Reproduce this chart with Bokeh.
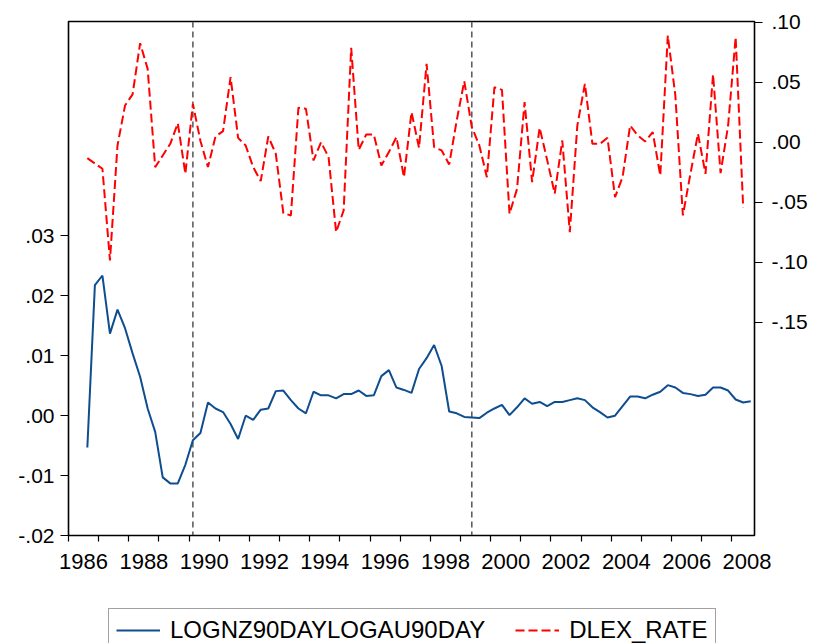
from bokeh.plotting import figure
from bokeh.layouts import column
from bokeh.models import (Range1d, LinearAxis, FixedTicker, CustomJSTickFormatter,
                          Legend, LegendItem, Span, ColumnDataSource)
from bokeh.embed import file_html
from bokeh.resources import INLINE

# ---------------- data ----------------
start_year = 1986
start_quarter = 3  # 1986Q3

lognz90daylogau90day = [
    -0.0053, 0.0218, 0.0234, 0.0137, 0.0177, 0.0146, 0.0104, 0.0065, 0.0012, -0.0027,
    -0.0103, -0.0113, -0.0113, -0.0082, -0.0041, -0.0029, 0.0022, 0.0012, 0.0006, -0.0014,
    -0.0039, 0.0000, -0.0007, 0.0010, 0.0012, 0.0041, 0.0042, 0.0026, 0.0012, 0.0004,
    0.0040, 0.0034, 0.0034, 0.0029, 0.0036, 0.0036, 0.0042, 0.0033, 0.0034, 0.0066,
    0.0076, 0.0047, 0.0043, 0.0038, 0.0078, 0.0096, 0.0118, 0.0083, 0.0007, 0.0004,
    -0.0002, -0.0003, -0.0004, 0.0005, 0.0012, 0.0018, 0.0001, 0.0014, 0.0029, 0.0020,
    0.0023, 0.0016, 0.0023, 0.0023, 0.0026, 0.0029, 0.0026, 0.0014, 0.0006, -0.0003,
    0.0000, 0.0016, 0.0032, 0.0032, 0.0029, 0.0035, 0.0040, 0.0051, 0.0047, 0.0038,
    0.0036, 0.0033, 0.0035, 0.0047, 0.0047, 0.0042, 0.0027, 0.0022, 0.0024,
]

dlex_rate = [
    -0.0133, -0.0178, -0.0222, -0.0986, -0.0028, 0.0306, 0.0398, 0.0825, 0.0611, -0.0208,
    -0.0111, -0.0014, 0.0158, -0.0264, 0.0319, 0.0010, -0.0208, 0.0047, 0.0092, 0.0542,
    0.0036, -0.0028, -0.0208, -0.0325, 0.0047, -0.0097, -0.0592, -0.0611, 0.0286, 0.0278,
    -0.0153, 0.0000, -0.0125, -0.0750, -0.0569, 0.0786, -0.0064, 0.0064, 0.0064, -0.0194,
    -0.0083, 0.0042, -0.0292, 0.0250, -0.0047, 0.0653, -0.0042, -0.0069, -0.0186, 0.0181,
    0.0508, 0.0125, -0.0028, -0.0292, 0.0458, 0.0436, -0.0597, -0.0390, 0.0333, -0.0333,
    0.0120, -0.0150, -0.0430, 0.0014, -0.0750, 0.0139, 0.0486, -0.0014, -0.0014, 0.0036,
    -0.0458, -0.0292, 0.0139, 0.0056, 0.0006, 0.0083, -0.0278, 0.0889, 0.0389, -0.0611,
    -0.0264, 0.0070, -0.0264, 0.0564, -0.0258, 0.0139, 0.0875, -0.0547,
]

series_names = ["LOGNZ90DAYLOGAU90DAY", "DLEX_RATE"]
break_dates = [(1990, 1), (1999, 2)]  # vertical dashed lines (year, quarter)

year_ticks = list(range(1986, 2009))
year_labels = list(range(1986, 2009, 2))
left_ticks = [-0.02, -0.01, 0.00, 0.01, 0.02, 0.03]
right_ticks = [-0.15, -0.10, -0.05, 0.00, 0.05, 0.10]
left_range = (-0.02, 0.0658)
right_range = (-0.328, 0.1006)
x_range = (1986, 2008.75)

BLUE = "#0E4D8F"
RED = "#FF0000"
RED_DASH = "9 4"
FONT = "Liberation Sans"


def qpos(year, q):
    return year + (q - 1) / 4 + 0.125


def series_x(n):
    out = []
    for i in range(n):
        k = start_quarter - 1 + i
        out.append(qpos(start_year + k // 4, k % 4 + 1))
    return out


src_a = ColumnDataSource(dict(x=series_x(len(lognz90daylogau90day)), y=lognz90daylogau90day))
src_b = ColumnDataSource(dict(x=series_x(len(dlex_rate)), y=dlex_rate))

# ---------------- main chart ----------------
p = figure(width=810, height=596, output_backend="svg", toolbar_location=None,
           x_range=Range1d(*x_range), y_range=Range1d(*left_range),
           min_border_left=68, min_border_right=56, min_border_top=21, min_border_bottom=61,
           background_fill_color="white", border_fill_color="white")
p.extra_y_ranges = {"right": Range1d(*right_range)}

p.xgrid.grid_line_color = None
p.ygrid.grid_line_color = None
p.outline_line_color = "black"
p.outline_line_width = 1.6
p.outline_line_alpha = 1.0

for d in break_dates:
    p.add_layout(Span(location=qpos(*d), dimension="height", line_color="#555555",
                      line_dash="6 4", line_width=1.5, level="underlay"))

p.line("x", "y", source=src_a, line_color=BLUE, line_width=2)
p.line("x", "y", source=src_b, line_color=RED, line_width=2,
       line_dash=RED_DASH, y_range_name="right")

fmt = CustomJSTickFormatter(code="return tick.toFixed(2).replace('0.', '.');")

# x axis
xa = p.xaxis[0]
xa.ticker = FixedTicker(ticks=[y + 0.5 for y in year_labels], minor_ticks=year_ticks)
xa.formatter = CustomJSTickFormatter(code="return String(Math.floor(tick));")
xa.major_tick_out = 0
xa.major_tick_in = 0
xa.minor_tick_out = 6
xa.minor_tick_in = 0
xa.minor_tick_line_color = "black"
xa.minor_tick_line_width = 1.2
xa.major_label_standoff = 12
xa.major_label_text_font = FONT
xa.major_label_text_font_size = "22px"
xa.major_label_text_color = "black"
xa.axis_line_color = "black"

# left axis
ya = p.yaxis[0]
ya.ticker = FixedTicker(ticks=left_ticks)
ya.formatter = fmt
ya.major_tick_out = 8
ya.major_tick_in = 0
ya.major_tick_line_width = 1.2
ya.minor_tick_line_color = None
ya.major_label_standoff = 6
ya.major_label_text_font = FONT
ya.major_label_text_font_size = "21px"
ya.major_label_text_color = "black"
ya.axis_line_color = "black"

# right axis
ra = LinearAxis(y_range_name="right", ticker=FixedTicker(ticks=right_ticks), formatter=fmt)
ra.major_tick_out = 8
ra.major_tick_in = 0
ra.major_tick_line_width = 1.2
ra.minor_tick_line_color = None
ra.major_label_standoff = 9
ra.major_label_text_font = FONT
ra.major_label_text_font_size = "21px"
ra.major_label_text_color = "black"
ra.axis_line_color = "black"
p.add_layout(ra, "right")

# ---------------- legend strip ----------------
# the same series are drawn here, but the strip's ranges keep them out of view;
# they only provide the legend's line samples
lg = figure(width=810, height=47, output_backend="svg", toolbar_location=None,
            x_axis_location=None, y_axis_location=None, min_border=0,
            x_range=Range1d(0, 1), y_range=Range1d(0, 1),
            outline_line_color=None, background_fill_color="white", border_fill_color="white")
lg.xgrid.grid_line_color = None
lg.ygrid.grid_line_color = None
k_a = lg.line("x", "y", source=src_a, line_color=BLUE, line_width=2)
k_b = lg.line("x", "y", source=src_b, line_color=RED, line_width=2, line_dash=RED_DASH)

legend = Legend(items=[LegendItem(label=series_names[0], renderers=[k_a]),
                       LegendItem(label=series_names[1], renderers=[k_b])],
                orientation="horizontal", location=(40, -9),
                glyph_width=44, label_standoff=10, spacing=30, padding=7, margin=0,
                border_line_color="#444444", border_line_width=1.2,
                background_fill_color="white", background_fill_alpha=1.0,
                label_text_font=FONT, label_text_font_size="24px", label_text_color="black")
lg.add_layout(legend)

layout = column(p, lg, spacing=0)
open("out.html", "w").write(file_html(layout, INLINE))
